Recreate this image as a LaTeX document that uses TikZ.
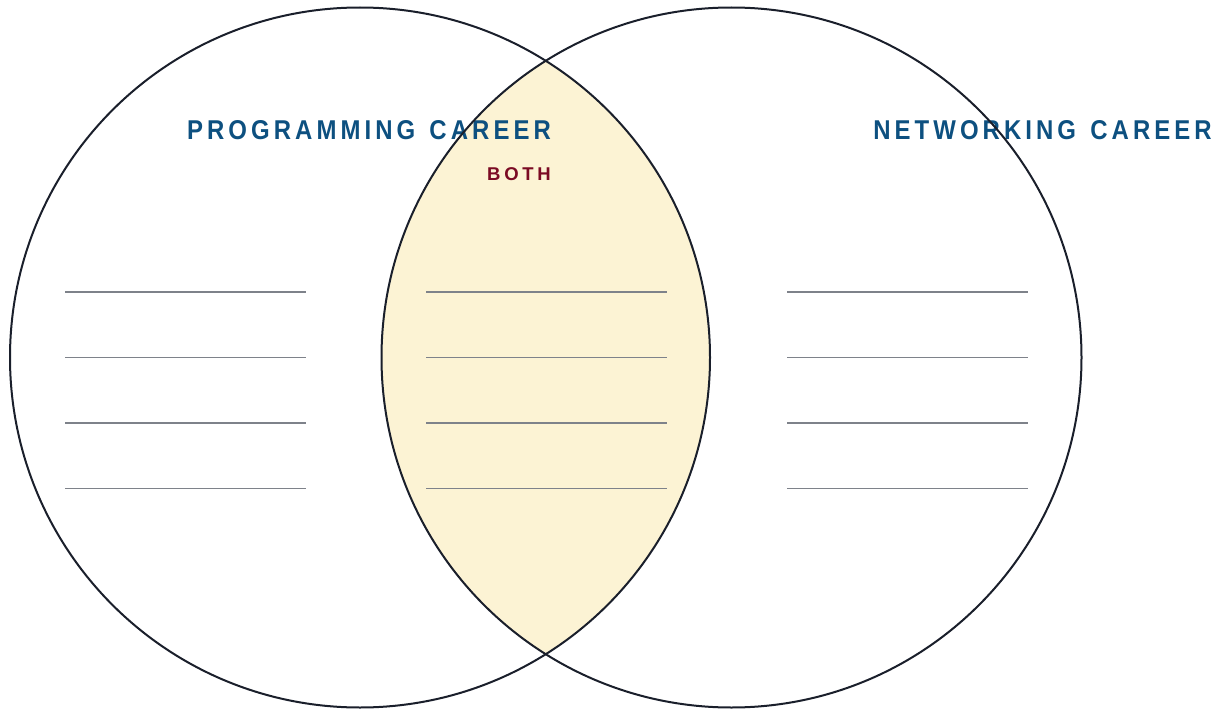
\documentclass[tikz,border=0pt]{standalone}
\usepackage{fontspec}
\usepackage{graphicx}
\setmainfont{Liberation Sans}
\newfontfamily\titlefont[LetterSpace=17]{Liberation Sans}
\newfontfamily\bothfont[LetterSpace=20]{Liberation Sans}
\usetikzlibrary{positioning}
\definecolor{careerblue}{HTML}{0D5080}
\definecolor{bothred}{HTML}{7B0A23}
\definecolor{lensfill}{HTML}{FCF3D4}
\definecolor{ringcol}{HTML}{1A1F2B}
\definecolor{rulegray}{HTML}{7E828A}

\begin{document}
\begin{tikzpicture}[x=1pt,y=-1pt]
\tikzstyle{ring}=[draw=ringcol,line width=2pt]
\tikzstyle{career}=[text=careerblue,font=\titlefont\bfseries\fontsize{27.2}{30}\selectfont,inner sep=0pt,anchor=base]
\tikzstyle{both}=[text=bothred,font=\bothfont\bfseries\fontsize{18.5}{20}\selectfont,inner sep=0pt,anchor=base]
\tikzstyle{blank}=[draw=rulegray,line width=1.2pt]

\useasboundingbox (0,0) rectangle (1227,709);

\coordinate (prog) at (360,357.5);
\coordinate (net) at (731.5,357.5);

% shared part
\begin{scope}
  \clip (prog) circle (350);
  \fill[lensfill] (net) circle (350);
\end{scope}

\node[career] (progtitle) at (369,139.5) {\scalebox{0.88}[1]{PROGRAMMING\hspace{4pt} CAREER}};
\node[career] (nettitle) at (1042.5,139.5) {\scalebox{0.88}[1]{NETWORKING\hspace{4pt} CAREER}};
\node[both] (bothtitle) at (519,180) {BOTH};

\draw[ring] (prog) circle (350);
\draw[ring] (net) circle (350);

% lines to write on
\foreach \x in {65,426,787}
  \foreach \y in {292,357.5,423,488.5}
    \draw[blank] (\x,\y) -- ++(241,0);
\end{tikzpicture}
\end{document}
